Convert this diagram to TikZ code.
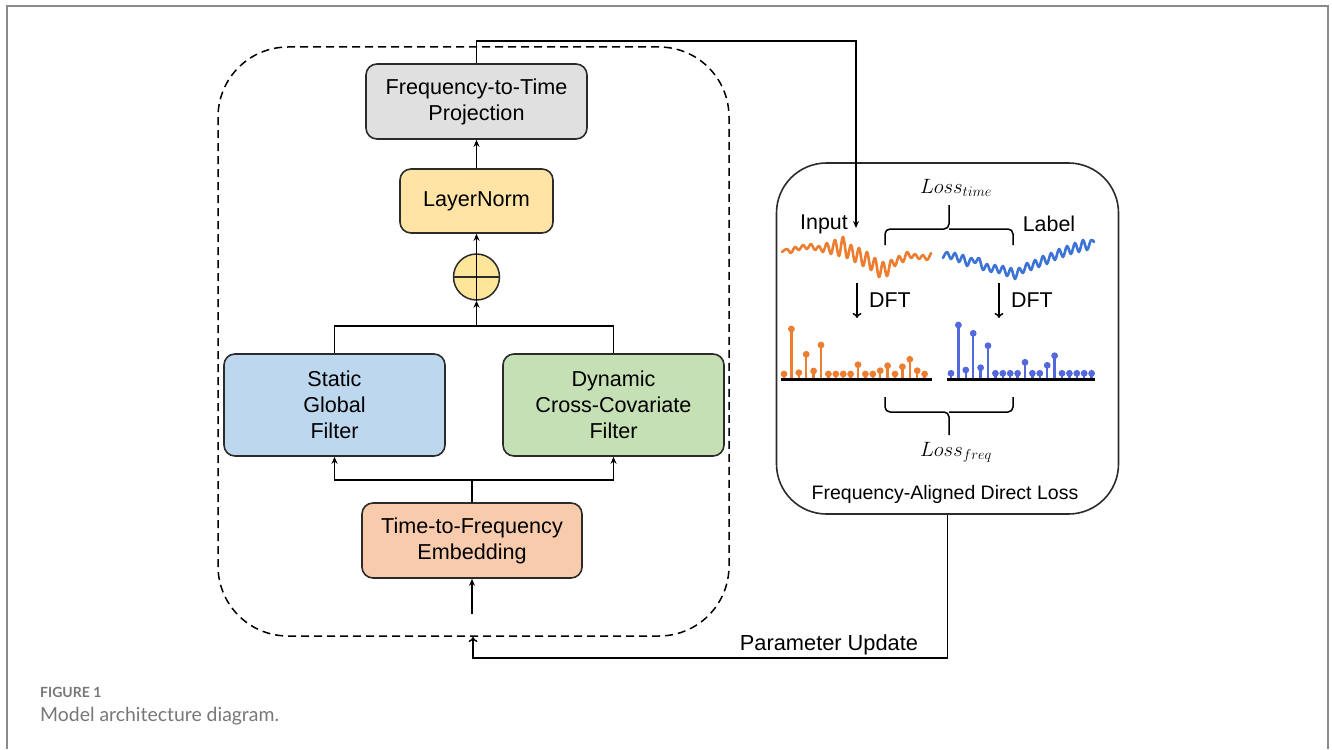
\documentclass[tikz,border=0pt]{standalone}
\usepackage{fontspec}
\setmainfont{Liberation Sans}
\newfontfamily\capfont{Lato}
\usetikzlibrary{arrows.meta}

\definecolor{projfill}{HTML}{E0E0E0}
\definecolor{normfill}{HTML}{FFE4A6}
\definecolor{plusfill}{HTML}{FDE59A}
\definecolor{sgffill}{HTML}{BDD7EE}
\definecolor{dccffill}{HTML}{C5E0B4}
\definecolor{embfill}{HTML}{F8CBAD}
\definecolor{edge}{HTML}{2B2B2B}
\definecolor{framegray}{HTML}{8A8A8A}
\definecolor{capgray}{HTML}{777777}
\definecolor{sigorange}{HTML}{ED7D31}
\definecolor{sigblue}{HTML}{3D73D4}
\definecolor{specblue}{HTML}{5468DE}

\tikzset{
  block/.style={draw=edge, line width=1.6pt, rounded corners=11pt, align=center,
    font=\fontsize{21.6}{26}\selectfont, inner sep=0pt},
  conn/.style={draw=black, line width=1.5pt},
  arr/.style={conn, -{Stealth[length=7pt,width=6pt]}},
  openarr/.style={conn, -{To[length=5pt,width=9pt]}},
  wave/.style={line width=2.6pt, line join=round, line cap=round, smooth, tension=0.6},
  stem/.style={line width=2.3pt},
  brace/.style={draw=black, line width=1.5pt, rounded corners=5pt},
  lbl/.style={font=\fontsize{21.4}{25}\selectfont, inner sep=0pt},
  mathlbl/.style={font=\fontsize{20.74}{24}\selectfont, inner sep=0pt},
}

\begin{document}
\begin{tikzpicture}[x=1pt,y=-1pt]
\useasboundingbox (0,0) rectangle (1332,749);

% page frame
\draw[framegray, line width=2pt] (7,749) -- (7,6) -- (1328,6) -- (1328,749);

% dashed model container
\node[draw=black, line width=1.5pt, dash pattern=on 8pt off 5pt, rounded corners=70pt,
      minimum width=511pt, minimum height=589pt, inner sep=0pt] (frame) at (473.5,341.5) {};

% model blocks
\node[block, fill=projfill, minimum width=221pt, minimum height=75pt] (proj) at (476.5,101.5)
  {Frequency-to-Time\\Projection};
\node[block, fill=normfill, minimum width=153pt, minimum height=64pt] (norm) at (476.5,201) {LayerNorm};
\node[draw=edge, line width=1.5pt, fill=plusfill, circle, minimum size=46pt, inner sep=0pt] (plus) at (476.5,277) {};
\draw[edge, line width=1.5pt] (plus.west) -- (plus.east);
\node[block, fill=sgffill, minimum width=221pt, minimum height=102pt] (sgf) at (334.5,405)
  {Static\\Global\\Filter};
\node[block, fill=dccffill, minimum width=221pt, minimum height=102pt] (dccf) at (613.5,405)
  {Dynamic\\Cross-Covariate\\Filter};
\node[block, fill=embfill, minimum width=220pt, minimum height=75pt] (emb) at (472,540.5)
  {Time-to-Frequency\\Embedding};

% data flow inside the model
\coordinate (merge) at (476.5,326);
\coordinate (split) at (472,480);
\coordinate (src) at (472,614);
\draw[arr] (src) -- (emb.south);
\draw[conn] (emb.north) -- (split);
\draw[arr] (split) -| (sgf.south);
\draw[arr] (split) -| (dccf.south);
\draw[conn] (sgf.north) |- (merge);
\draw[conn] (dccf.north) |- (merge);
\draw[arr] (merge) -- (plus.south);
\draw[conn] (plus.south) -- (plus.north);
\draw[arr] (plus.north) -- (norm.south);
\draw[arr] (norm.north) -- (proj.south);

% loss block
\node[draw=edge, line width=1.6pt, rounded corners=50pt, minimum width=342pt, minimum height=351pt,
      inner sep=0pt] (loss) at (947.5,338.5) {};
\node[font=\fontsize{19.5}{23}\selectfont, inner sep=0pt] (losstitle) at (945,494) {Frequency-Aligned Direct Loss};

% prediction fed into the loss
\coordinate (top) at (856,41);
\coordinate (inhead) at (856,228);
\draw[arr] (proj.north) |- (top) -- (inhead);

\node[lbl] (inlbl) at (824,224) {Input};
\node[lbl] (lablbl) at (1049,224) {Label};

% time-domain signals
\draw[sigorange, wave] plot coordinates {(782,252) (787,249) (791,253) (795,247) (799,250) (803,245) (807,249)
  (811,244) (815,250) (819,246) (823,252) (827,243) (831,254) (835,240) (839,256) (843,237) (847,258)
  (851,245) (855,262) (859,248) (863,266) (867,252) (871,270) (875,258) (879,277) (883,262) (887,276)
  (891,260) (895,266) (899,256) (903,262) (907,252) (911,258) (915,254) (919,259) (923,255) (927,260) (931,253)};
\draw[sigblue, wave] plot coordinates {(943,258) (947,252) (951,259) (955,253) (959,262) (963,255) (967,266)
  (971,258) (975,263) (979,258) (983,270) (987,264) (991,272) (995,265) (999,273) (1003,266) (1007,276)
  (1011,268) (1015,279) (1019,268) (1023,273) (1027,263) (1031,270) (1035,260) (1039,267) (1043,256)
  (1047,264) (1051,253) (1055,260) (1059,249) (1063,257) (1067,246) (1071,254) (1075,243) (1079,252)
  (1083,240) (1087,250) (1091,240) (1094,242)};

% time-domain loss brace
\coordinate (tb) at (949,229);
\draw[brace] (885,245) -- (885,229) -- (tb) -- (949,205);
\draw[brace] (1013,245) -- (1013,229) -- (tb);
\node[mathlbl] (losst) at (956,188) {$Loss_{time}$};

% DFT arrows
\coordinate (d1a) at (857,283); \coordinate (d1b) at (857,318);
\coordinate (d2a) at (999,283); \coordinate (d2b) at (999,318);
\draw[openarr] (d1a) -- (d1b);
\draw[openarr] (d2a) -- (d2b);
\node[lbl] (dft1) at (890,300) {DFT};
\node[lbl] (dft2) at (1032,300) {DFT};

% spectra
\foreach \i/\t in {0/374,1/329,2/372.7,3/354.3,4/371,5/345,6/374,7/374,8/374,9/374,
                   10/364.7,11/374,12/374,13/370.7,14/365.7,15/374,16/366.7,17/359.3,18/370.7,19/374}{
  \draw[sigorange, stem] (784+7.4*\i,379) -- (784+7.4*\i,\t);
  \fill[sigorange] (784+7.4*\i,\t) circle (3.4pt);
}
\foreach \i/\t in {0/373.3,1/325,2/370,3/333.3,4/367.7,5/345.7,6/373.3,7/373.3,8/373.3,9/373.3,
                   10/362.3,11/373.3,12/373.3,13/365.3,14/355.7,15/373.3,16/373.3,17/373.3,18/373.3,19/373.3}{
  \draw[specblue, stem] (951+7.4*\i,379) -- (951+7.4*\i,\t);
  \fill[specblue] (951+7.4*\i,\t) circle (3.4pt);
}
\draw[black, line width=3pt] (781,379) -- (932,379);
\draw[black, line width=3pt] (947,379) -- (1095,379);

% frequency-domain loss brace
\coordinate (bb) at (949,412);
\draw[brace] (885,397) -- (885,412) -- (bb) -- (949,435);
\draw[brace] (1013,397) -- (1013,412) -- (bb);
\node[mathlbl] (lossf) at (956,452) {$Loss_{freq}$};

% parameter update feedback
\coordinate (ret) at (473,658);
\coordinate (rethead) at (473,637);
\draw[openarr] (loss.south) |- (ret) -- (rethead);
\node[lbl, font=\fontsize{21.8}{25}\selectfont] (pulbl) at (829,645) {Parameter Update};

% caption
\node[anchor=base west, inner sep=0pt, text=capgray, font=\capfont\bfseries\fontsize{14}{16}\selectfont] (fig) at (40,697) {FIGURE 1};
\node[anchor=base west, inner sep=0pt, text=capgray, font=\capfont\fontsize{19.4}{22}\selectfont] (cap) at (40,721) {Model architecture diagram.};
\end{tikzpicture}
\end{document}
